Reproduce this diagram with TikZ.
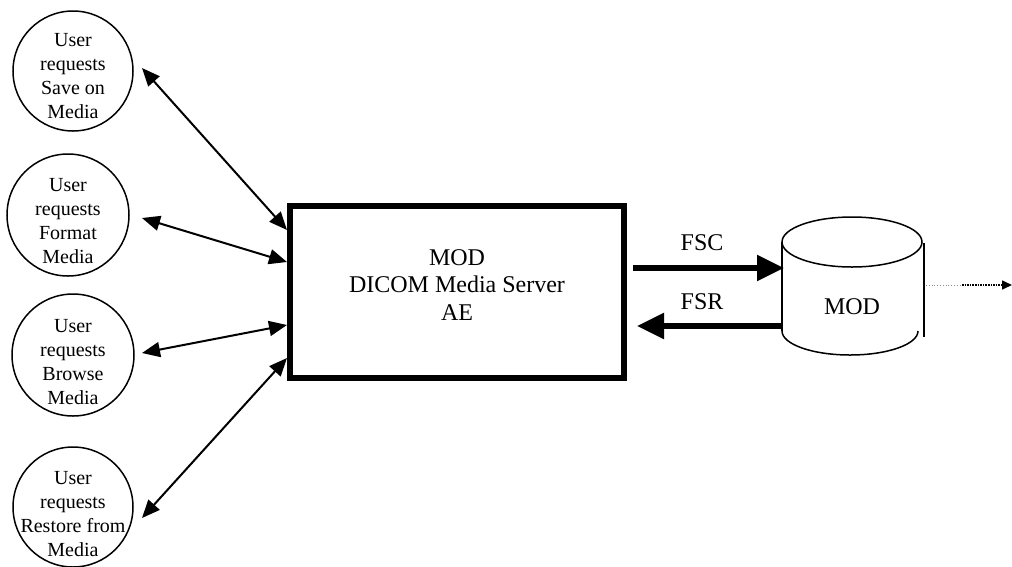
\documentclass[tikz,border=0pt]{standalone}
\usepackage{fontspec}
\setmainfont{Liberation Serif}
\usetikzlibrary{arrows.meta}
\tikzset{
  circ/.style={draw, circle, line width=1.5pt, minimum size=#1, inner sep=0pt},
  ctext/.style={align=center, font=\fontsize{20}{24}\selectfont, inner sep=0pt},
  btext/.style={align=center, font=\fontsize{24}{27.5}\selectfont, inner sep=0pt},
  mainbox/.style={draw, line width=6pt, minimum width=334pt, minimum height=172pt, inner sep=0pt},
  usr/.style={line width=2pt, {Triangle[length=18pt,width=15pt]}-{Triangle[length=18pt,width=15pt]}},
  fs/.style={line width=5.5pt, -{Triangle[length=27pt,width=25pt]}},
  cyl/.style={line width=1.5pt}
}
\begin{document}
\begin{tikzpicture}[x=1pt,y=-1pt]
\useasboundingbox (0,0) rectangle (1012,566);
% user circles
\node[circ=120pt] (c1) at (73,71) {};
\node[ctext] (t1) at (73,76) {User\\requests\\Save on\\Media};
\node[circ=122pt] (c2) at (68,215) {};
\node[ctext] (t2) at (68,221) {User\\requests\\Format\\Media};
\node[circ=122pt] (c3) at (73,355) {};
\node[ctext] (t3) at (73,362) {User\\requests\\Browse\\Media};
\node[circ=120pt] (c4) at (73,507) {};
\node[ctext] (t4) at (73,514) {User\\requests\\Restore from\\Media};
% main box
\node[mainbox] (box) at (457,292) {};
\node[btext] (boxt) at (457,285) {MOD\\DICOM Media Server\\AE};
% arrow end coordinates
\coordinate (a1u) at (142,68);  \coordinate (a1b) at (287,230);
\coordinate (a2u) at (142,218); \coordinate (a2b) at (287,262);
\coordinate (a3u) at (142,353); \coordinate (a3b) at (287,325);
\coordinate (a4u) at (142,518); \coordinate (a4b) at (287,358);
\draw[usr] (a1u) -- (a1b);
\draw[usr] (a2u) -- (a2b);
\draw[usr] (a3u) -- (a3b);
\draw[usr] (a4u) -- (a4b);
% cylinder
\draw[cyl] (852,242) ellipse [x radius=70, y radius=25];
\draw[cyl] (782,242) -- (782,331);
\draw[cyl] (782,331) arc[start angle=180, end angle=0, x radius=68, y radius=24];
\draw[cyl] (924,243) -- (924,337);
\node[btext] (mod) at (852,307) {MOD};
% FSC / FSR
\coordinate (fscs) at (633,268); \coordinate (fsce) at (784,268);
\coordinate (fsrs) at (782,326); \coordinate (fsre) at (637,326);
\draw[fs] (fscs) -- (fsce);
\draw[fs] (fsrs) -- (fsre);
\node[btext] (fsc) at (702,243) {FSC};
\node[btext] (fsr) at (702,302) {FSR};
% dotted outgoing
\coordinate (d0) at (926,285); \coordinate (d1) at (962,285); \coordinate (d2) at (1012,285);
\draw[black!45, line width=0.8pt, dotted] (d0) -- (d1);
\draw[line width=1.6pt, densely dotted, -{Triangle[length=10pt,width=9pt]}] (d1) -- (d2);
\end{tikzpicture}
\end{document}
